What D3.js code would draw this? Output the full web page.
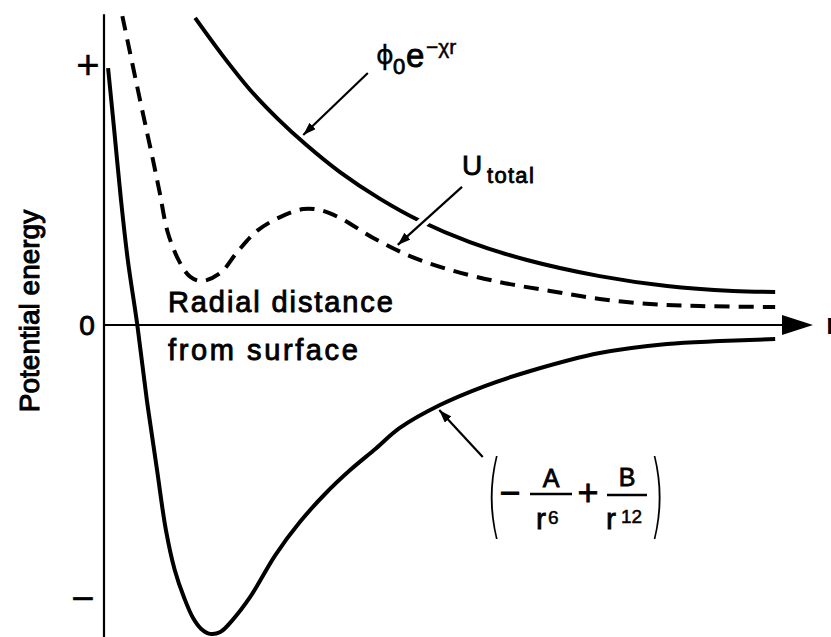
<!DOCTYPE html>
<html>
<head>
<meta charset="utf-8">
<script src="https://cdn.jsdelivr.net/npm/d3@7"></script>
<style>
  html, body { margin: 0; padding: 0; background: #fff; }
  svg { display: block; }
  text { font-family: "Liberation Sans", Arial, Helvetica, sans-serif; fill: #000; }
</style>
</head>
<body>
<svg id="chart" width="831" height="637"></svg>
<script>
// Radial distance r and potential energy, both in arbitrary units.
// Repulsive double-layer term  phi0 * exp(-chi r)
const repulsionR = [1.34, 1.74, 2.15, 2.56, 2.96, 3.47, 4.06, 4.65, 5.38, 6.22, 7.29, 8.28, 9.25, 9.87];
const repulsionU = [11.81, 10.38, 9.04, 7.92, 6.96, 5.88, 4.85, 4.0, 3.19, 2.5, 1.88, 1.5, 1.31, 1.27];

// Total interaction energy U_total
const totalR = [0.27, 0.53, 0.72, 0.82, 0.94, 1.12, 1.27, 1.44, 1.71, 1.96, 2.25, 2.59, 2.93, 3.18, 3.47, 3.96, 4.5, 5.09, 5.82, 6.56, 7.29, 8.03, 8.76, 9.87];
const totalU = [11.88, 8.65, 6.35, 5.08, 3.54, 2.38, 1.85, 1.69, 2.0, 2.81, 3.62, 4.15, 4.46, 4.42, 4.12, 3.35, 2.65, 2.12, 1.65, 1.31, 1.0, 0.81, 0.73, 0.69];

// Van der Waals term  -A/r^6 + B/r^12
const vdwR = [0.06, 0.15, 0.25, 0.35, 0.49, 0.63, 0.78, 0.91, 1.04, 1.18, 1.31, 1.43, 1.56, 1.71, 1.88, 2.15, 2.52, 2.88, 3.25, 3.62, 3.99, 4.35, 4.94, 5.6, 6.27, 7.29, 8.28, 9.06, 9.87];
const vdwU = [9.88, 7.5, 4.81, 2.5, 0, -2.88, -5.58, -7.88, -9.42, -10.5, -11.27, -11.69, -11.88, -11.81, -11.38, -10.46, -8.85, -7.58, -6.5, -5.58, -4.77, -3.96, -3.08, -2.35, -1.77, -1.08, -0.73, -0.62, -0.54];

// Signs marking the energy axis
const yTickLabels = ["+", "0", "\u2212"];
const yTickValues = [10, 0, -10.5];

const svg = d3.select("#chart");
const x = d3.scaleLinear().domain([0, 10]).range([104, 784]);
const y = d3.scaleLinear().domain([-12, 12]).range([637, 13]);

const zip = (a, b) => a.map((v, i) => [v, b[i]]);
const line = d3.line()
  .x(d => x(d[0]))
  .y(d => y(d[1]))
  .curve(d3.curveCatmullRom.alpha(0.5));

// arrow heads
const defs = svg.append("defs");
defs.append("marker")
  .attr("id", "head")
  .attr("markerUnits", "userSpaceOnUse")
  .attr("markerWidth", 16).attr("markerHeight", 12)
  .attr("refX", 13).attr("refY", 4.5)
  .attr("orient", "auto")
  .append("path").attr("d", "M0,0 L13,4.5 L0,9 Z").attr("fill", "#000");

// axes
const x0 = x(0), yZero = y(0);
svg.append("line")
  .attr("x1", x0).attr("x2", x0)
  .attr("y1", y(11.95)).attr("y2", 637)
  .attr("stroke", "#000").attr("stroke-width", 2.2);
svg.append("line")
  .attr("x1", x0).attr("x2", x(10) + 2)
  .attr("y1", yZero).attr("y2", yZero)
  .attr("stroke", "#000").attr("stroke-width", 2.2);
svg.append("path")
  .attr("d", `M${x(10) - 2},${yZero - 10} L${x(10) + 29},${yZero} L${x(10) - 2},${yZero + 10} Z`)
  .attr("fill", "#000");
svg.append("text")
  .attr("x", 826).attr("y", yZero + 9)
  .attr("font-size", 30).attr("font-weight", "bold")
  .text("r");

// energy axis signs
const tickStyle = [
  { dx: -16, size: 40, shift: 14 },
  { dx: -17, size: 28, shift: 10 },
  { dx: -21, size: 40, shift: 14 }
];
yTickValues.forEach((v, i) => {
  svg.append("text")
    .attr("x", x0 + tickStyle[i].dx)
    .attr("y", y(v) + tickStyle[i].shift)
    .attr("text-anchor", "middle")
    .attr("font-size", tickStyle[i].size)
    .attr("stroke", "#000").attr("stroke-width", i === 1 ? 0.9 : 0.4)
    .text(yTickLabels[i]);
});

svg.append("text")
  .attr("transform", "translate(39,311) rotate(-90)")
  .attr("text-anchor", "middle")
  .attr("font-size", 28)
  .attr("stroke", "#000").attr("stroke-width", 1.0)
  .text("Potential energy");

// curves
svg.append("path")
  .datum(zip(repulsionR, repulsionU))
  .attr("d", line)
  .attr("fill", "none").attr("stroke", "#000").attr("stroke-width", 4);

svg.append("path")
  .datum(zip(totalR, totalU))
  .attr("d", line)
  .attr("fill", "none").attr("stroke", "#000").attr("stroke-width", 4)
  .attr("stroke-dasharray", "15,9");

svg.append("path")
  .datum(zip(vdwR, vdwU))
  .attr("d", line)
  .attr("fill", "none").attr("stroke", "#000").attr("stroke-width", 4);

// axis caption
const caption = svg.append("g")
  .attr("font-size", 29).attr("letter-spacing", 1.9)
  .attr("stroke", "#000").attr("stroke-width", 0.9);
caption.append("text").attr("x", 168).attr("y", 312).text("Radial distance");
caption.append("text").attr("x", 168).attr("y", 360).attr("letter-spacing", 2.6).text("from surface");

// pointer arrows (start and tip in data units)
function pointer(r0, u0, r1, u1, gap) {
  if (gap) {
    const [a, b] = gap;
    const px = t => x(r0) + (x(r1) - x(r0)) * t;
    const py = t => y(u0) + (y(u1) - y(u0)) * t;
    svg.append("line")
      .attr("x1", px(a)).attr("y1", py(a))
      .attr("x2", px(b)).attr("y2", py(b))
      .attr("stroke", "#fff").attr("stroke-width", 10);
  }
  svg.append("line")
    .attr("x1", x(r0)).attr("y1", y(u0))
    .attr("x2", x(r1)).attr("y2", y(u1))
    .attr("stroke", "#000").attr("stroke-width", 2.2)
    .attr("marker-end", "url(#head)");
}
pointer(3.88, 9.69, 2.93, 7.31);
pointer(5.265, 5.31, 4.32, 3.08, [0.5, 0.8]);
pointer(5.57, -5.08, 4.93, -3.27);

// labels
const lab = svg.append("g").attr("stroke", "#000").attr("stroke-width", 0.8);
lab.append("text").attr("x", 376).attr("y", 64)
  .style("font-family", "'DejaVu Sans', sans-serif")
  .attr("font-size", 27).attr("stroke-width", 0.3).text("\u03d5");
lab.append("text").attr("x", 393).attr("y", 74).attr("font-size", 22).text("0");
lab.append("text").attr("x", 406).attr("y", 67).attr("font-size", 33).text("e");
lab.append("text").attr("x", 426).attr("y", 54).attr("font-size", 21).attr("stroke-width", 0.5).text("\u2212\u03c7r");

lab.append("text").attr("x", 462).attr("y", 175).attr("font-size", 28).text("U");
lab.append("text").attr("x", 487).attr("y", 183).attr("font-size", 22).attr("letter-spacing", 1.3).text("total");

// bracketed Lennard-Jones expression
const f = svg.append("g").attr("stroke", "#000").attr("stroke-width", 0.8);
const paren = (cx, ch) => f.append("text")
  .attr("transform", `translate(${cx},527) scale(0.42,1)`)
  .attr("text-anchor", "middle")
  .style("font-family", "'DejaVu Sans', sans-serif")
  .attr("font-weight", 200)
  .attr("font-size", 92).attr("stroke-width", 0).text(ch);
paren(494, "(");
paren(657, ")");
f.append("text").attr("x", 510).attr("y", 505).attr("text-anchor", "middle").attr("font-size", 36).text("\u2212");
f.append("text").attr("x", 588).attr("y", 505).attr("text-anchor", "middle").attr("font-size", 36).text("+");
f.append("text").attr("x", 551).attr("y", 487).attr("text-anchor", "middle").attr("font-size", 25).text("A");
f.append("text").attr("x", 627).attr("y", 486).attr("text-anchor", "middle").attr("font-size", 25).text("B");
f.append("line").attr("x1", 530).attr("x2", 572).attr("y1", 494).attr("y2", 494).attr("stroke-width", 2.6);
f.append("line").attr("x1", 607).attr("x2", 647).attr("y1", 495).attr("y2", 495).attr("stroke-width", 2.6);
f.append("text").attr("x", 536).attr("y", 529).attr("font-size", 30).text("r");
f.append("text").attr("x", 548).attr("y", 524).attr("font-size", 19).attr("stroke-width", 0.5).text("6");
f.append("text").attr("x", 606).attr("y", 529).attr("font-size", 30).text("r");
f.append("text").attr("x", 621).attr("y", 523).attr("font-size", 19).attr("stroke-width", 0.5).text("12");
</script>
</body>
</html>
